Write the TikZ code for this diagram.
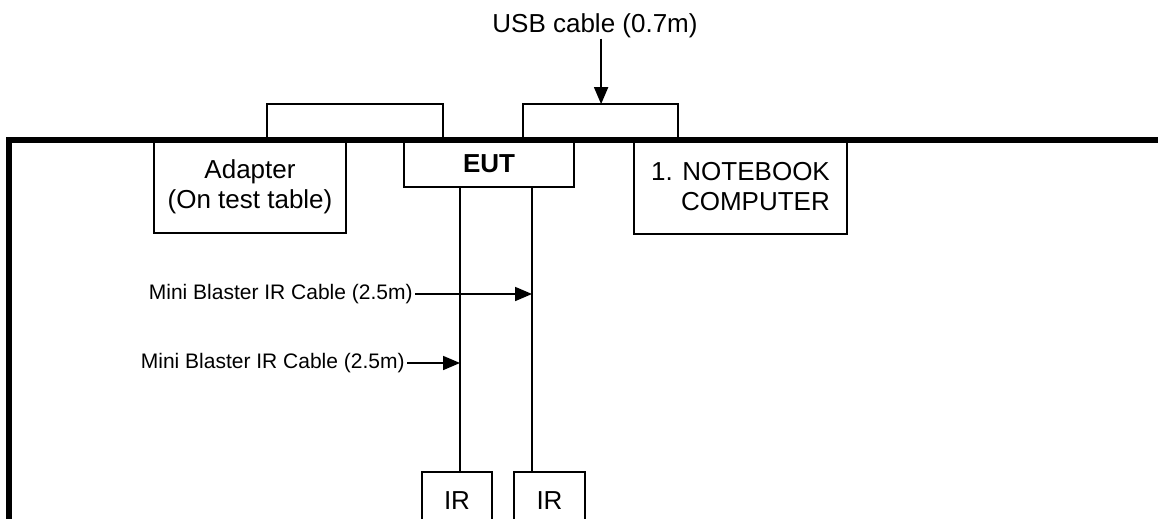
\documentclass[tikz,border=0pt]{standalone}
\usepackage{fontspec}
\setmainfont{Liberation Sans}
\usetikzlibrary{arrows.meta}
\tikzset{
  unitbox/.style={draw, line width=0.9pt, fill=white, inner sep=0pt, align=center,
    font=\fontsize{13}{15}\selectfont},
  cablelabel/.style={inner sep=1pt, font=\fontsize{10.5}{12}\selectfont},
  cablearrow/.style={line width=0.9pt, -{Triangle[length=8.5pt,width=7pt]}},
  cable/.style={line width=0.9pt},
  tableedge/.style={line width=2.6pt, line cap=rect}
}
\begin{document}
\begin{tikzpicture}[x=0.5pt, y=-0.5pt]
  \useasboundingbox (0,0) rectangle (1158,519);
  \clip (0,0) rectangle (1158,519);
  % units on the table
  \node[unitbox, minimum width=96pt, minimum height=46.5pt] (adapter) at (250,186.5) {Adapter\\(On test table)};
  \node[unitbox, minimum width=85pt, minimum height=23.5pt, font=\fontsize{13}{15}\selectfont\bfseries] (eut) at (489,163.5) {EUT};
  \node[unitbox, minimum width=106.5pt, minimum height=47pt, align=right] (notebook) at (740.5,187) {1. NOTEBOOK\\COMPUTER};
  \node[unitbox, minimum width=35pt, minimum height=29pt] (ir1) at (457,501) {IR};
  \node[unitbox, minimum width=35.5pt, minimum height=29pt] (ir2) at (549.5,501) {IR};
  % table edge
  \draw[tableedge] (9,560) -- (9,140) -- (1170,140);
  % cables over the table edge
  \draw[cable] ([xshift=-40pt]adapter.north east) -- ++(0,17.5pt) -| ([xshift=-66pt]eut.north east);
  \draw[cable] ([xshift=-26pt]eut.north east) -- ++(0,17.5pt) coordinate (usbmid) -| ([xshift=22.5pt]notebook.north west);
  \coordinate (usbtop) at ([xshift=-16pt]usbmid -| notebook.north west);
  \node[font=\fontsize{13}{15}\selectfont, inner sep=0pt] (usb) at (595,26) {USB cable (0.7m)};
  \draw[cablearrow] (usbtop |- usb.south) -- (usbtop);
  % IR cables
  \coordinate (c1) at ([xshift=-14.5pt]eut.south);
  \coordinate (c2) at ([xshift=21.5pt]eut.south);
  \draw[cable] (c1) -- (c1 |- ir1.north);
  \draw[cable] (c2) -- (c2 |- ir2.north);
  \node[cablelabel, anchor=east] (lblA) at (415,294) {Mini Blaster IR Cable (2.5m)};
  \node[cablelabel, anchor=east] (lblB) at (407,363) {Mini Blaster IR Cable (2.5m)};
  \draw[cablearrow] (lblA.east) -- (lblA.east -| c2);
  \draw[cablearrow] (lblB.east) -- (lblB.east -| c1);
\end{tikzpicture}
\end{document}
